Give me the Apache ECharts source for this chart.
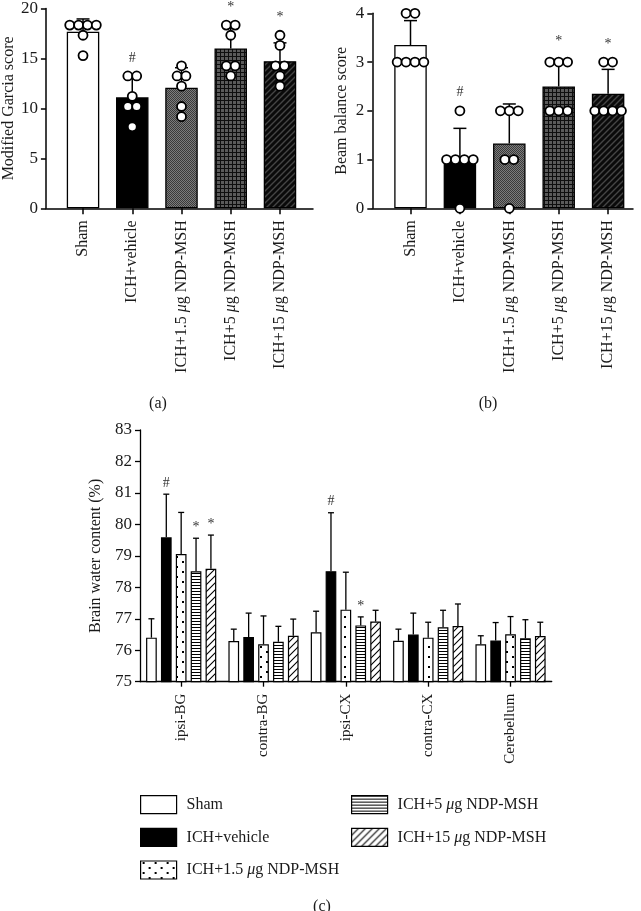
<!DOCTYPE html>
<html><head><meta charset="utf-8">
<script src="https://cdn.jsdelivr.net/npm/echarts@6/dist/echarts.min.js"></script>
<style>html,body{margin:0;padding:0;background:#fff}#chart{width:641px;height:911px}</style>
</head><body><div id="chart"></div>
<script>
// ---------- data ----------
const groups = ['Sham', 'ICH+vehicle', 'ICH+1.5 μg NDP-MSH', 'ICH+5 μg NDP-MSH', 'ICH+15 μg NDP-MSH'];

// (a) Modified Garcia score
const garciaMean = [17.35, 10.9, 11.85, 15.7, 14.45];
const garciaSD = [1.25, 2.1, 1.96, 2.25, 1.8];
const garciaPoints = [
  [18, 18, 18, 18, 17, 15],
  [13, 13, 11, 10, 10, 8],
  [14, 13, 13, 12, 10, 9],
  [18, 18, 17, 14, 14, 13],
  [17, 16, 14, 14, 13, 12]
];
const garciaSig = ['', '#', '', '*', '*'];

// (b) Beam balance score
const beamMean = [3.35, 1.02, 1.33, 2.5, 2.35];
const beamSD = [0.5, 0.62, 0.81, 0.55, 0.5];
const beamPoints = [
  [4, 4, 3, 3, 3, 3],
  [2, 1, 1, 1, 1, 0],
  [2, 2, 2, 1, 1, 0],
  [3, 3, 3, 2, 2, 2],
  [3, 3, 2, 2, 2, 2]
];
const beamSig = ['', '#', '', '*', '*'];

// (c) Brain water content (%)
const regions = ['ipsi-BG', 'contra-BG', 'ipsi-CX', 'contra-CX', 'Cerebellum'];
const waterSham = [76.40, 76.29, 76.57, 76.30, 76.19];
const waterShamSD = [0.60, 0.38, 0.67, 0.37, 0.27];
const waterVehicle = [79.59, 76.42, 78.51, 76.50, 76.31];
const waterVehicleSD = [1.37, 0.76, 1.86, 0.68, 0.57];
const water1_5 = [79.06, 76.19, 77.29, 76.40, 76.51];
const water1_5SD = [1.32, 0.90, 1.19, 0.49, 0.56];
const water5 = [78.51, 76.27, 76.79, 76.73, 76.38];
const water5SD = [1.05, 0.49, 0.27, 0.54, 0.59];
const water15 = [78.59, 76.46, 76.91, 76.77, 76.45];
const water15SD = [1.07, 0.53, 0.36, 0.70, 0.44];
const waterSigSham = ['', '', '', '', ''];
const waterSigVehicle = ['#', '', '#', '', ''];
const waterSig1_5 = ['', '', '', '', ''];
const waterSig5 = ['*', '', '*', '', ''];
const waterSig15 = ['*', '', '', '', ''];

// ---------- helpers ----------
const FONT = 'Liberation Serif';
const INK = '#1a1a1a';

function pat(w, h, draw) {
  const c = document.createElement('canvas');
  c.width = w; c.height = h;
  const x = c.getContext('2d');
  draw(x, w, h);
  return { image: c, repeat: 'repeat' };
}
const patFineGray = pat(2, 2, x => {
  x.fillStyle = '#7c7c7c'; x.fillRect(0, 0, 2, 2);
  x.fillStyle = '#3a3a3a'; x.fillRect(0, 0, 1, 1); x.fillRect(1, 1, 1, 1);
});
const patGrid = pat(4, 4, x => {
  x.fillStyle = '#0e0e0e'; x.fillRect(0, 0, 4, 4);
  x.fillStyle = '#5a5a5a'; x.fillRect(1, 1, 3, 3);
});
const patDiagDark = pat(6, 6, x => {
  x.fillStyle = '#0a0a0a'; x.fillRect(0, 0, 6, 6);
  x.strokeStyle = '#454545'; x.lineWidth = 1.4;
  x.beginPath();
  x.moveTo(0, 6); x.lineTo(6, 0);
  x.moveTo(-1, 1); x.lineTo(1, -1);
  x.moveTo(5, 7); x.lineTo(7, 5);
  x.stroke();
});
const patDots = pat(12, 10, x => {
  x.fillStyle = '#fff'; x.fillRect(0, 0, 12, 10);
  x.fillStyle = '#000'; x.fillRect(2, 1, 2, 2); x.fillRect(8, 6, 2, 2);
});
const patHLines = pat(4, 3, x => {
  x.fillStyle = '#fff'; x.fillRect(0, 0, 4, 3);
  x.fillStyle = '#000'; x.fillRect(0, 0, 4, 1);
});
const patDiagLight = pat(7, 7, x => {
  x.fillStyle = '#fff'; x.fillRect(0, 0, 7, 7);
  x.strokeStyle = '#000'; x.lineWidth = 1.1;
  x.beginPath();
  x.moveTo(0, 7); x.lineTo(7, 0);
  x.moveTo(-1, 1); x.lineTo(1, -1);
  x.moveTo(6, 8); x.lineTo(8, 6);
  x.stroke();
});

const fillsAB = ['#ffffff', '#000000', patFineGray, patGrid, patDiagDark];
const fillsC = ['#ffffff', '#000000', patDots, patHLines, patDiagLight];

function jitter(points, step) {
  const out = [];
  points.forEach((vals, g) => {
    const counts = {}, seen = {};
    vals.forEach(v => counts[v] = (counts[v] || 0) + 1);
    vals.forEach(v => {
      const k = seen[v] = (seen[v] === undefined ? 0 : seen[v] + 1);
      out.push([g + (k - (counts[v] - 1) / 2) * step, v]);
    });
  });
  return out;
}

const muFmt = v => v.replace('μ', '{i|μ}');
const richMu = size => ({ i: { fontStyle: 'italic', fontFamily: FONT, fontSize: size, color: INK } });

function errRender(sig, pts, cap, gap, lw, font, barStep) {
  return function (params, api) {
    const i = params.dataIndex;
    const cat = api.value(0), sIdx = api.value(1), m = api.value(2), s = api.value(3);
    const dx = barStep ? (sIdx - 2) * barStep : 0;
    const p0 = api.coord([cat, m]), p1 = api.coord([cat, m + s]);
    const x = p0[0] + dx;
    const children = [
      { type: 'line', shape: { x1: x, y1: p0[1], x2: x, y2: p1[1] }, style: { stroke: '#000', lineWidth: lw } },
      { type: 'line', shape: { x1: x - cap, y1: p1[1], x2: x + cap, y2: p1[1] }, style: { stroke: '#000', lineWidth: lw } }
    ];
    const mark = sig[i];
    if (mark) {
      const top = pts ? Math.max(m + s, Math.max.apply(null, pts[cat])) : m + s;
      const pt = api.coord([cat, top]);
      children.push({ type: 'text', x: x, y: pt[1] - gap,
        style: { text: mark, align: 'center', verticalAlign: 'middle', font: font, fill: '#333' } });
    }
    return { type: 'group', children };
  };
}

// ---------- axes ----------
const lineStyleAB = { color: '#000', width: 1.5 };
const lineStyleC = { color: '#000', width: 1.3 };
const tickLabel = { fontFamily: FONT, fontSize: 17, color: INK };

function outerX(grid) {
  return { gridIndex: grid, type: 'value', min: 0, max: 1,
    axisLine: { show: true, onZero: false, lineStyle: lineStyleAB },
    axisTick: { show: false }, axisLabel: { show: false }, splitLine: { show: false } };
}
function innerCatX(grid) {
  return { gridIndex: grid, type: 'category', data: groups,
    axisLine: { show: false },
    axisTick: { show: true, alignWithLabel: true, length: 6, lineStyle: lineStyleAB },
    axisLabel: { rotate: 90, margin: 12, interval: 0, fontFamily: FONT, fontSize: 16, color: INK,
      formatter: muFmt, rich: richMu(16) } };
}
function hiddenValX(grid) {
  return { gridIndex: grid, type: 'value', min: -0.5, max: 4.5, show: false };
}
function visY(grid, min, max, interval, name, gap) {
  return { gridIndex: grid, type: 'value', min, max, interval,
    axisLine: { show: true, onZero: false, lineStyle: lineStyleAB },
    axisTick: { show: true, length: 5, lineStyle: lineStyleAB },
    axisLabel: Object.assign({ margin: 8 }, tickLabel),
    splitLine: { show: false },
    name, nameLocation: 'middle', nameGap: gap,
    nameTextStyle: { fontFamily: FONT, fontSize: 16, color: INK } };
}
function hidY(grid, min, max) {
  return { gridIndex: grid, type: 'value', min, max, show: false };
}

// ---------- series ----------
const series = [];
function addPanel(xCat, xVal, y, means, sds, points, sig) {
  series.push({ type: 'bar', name: 'panel' + xCat, xAxisIndex: xCat, yAxisIndex: y, barWidth: 32.5, silent: true, z: 2,
    itemStyle: { borderColor: '#000', borderWidth: 1.3 },
    data: means.map((v, i) => ({ value: v, itemStyle: { color: fillsAB[i] } })) });
  series.push({ type: 'custom', xAxisIndex: xCat, yAxisIndex: y, z: 4, silent: true, clip: false,
    data: means.map((m, i) => [i, 0, m, sds[i]]),
    renderItem: errRender(sig, points, 6.5, 18, 1.5, '14px ' + FONT, 0) });
  series.push({ type: 'scatter', xAxisIndex: xVal, yAxisIndex: y, z: 5, silent: true, clip: false,
    symbol: 'circle', symbolSize: 9,
    itemStyle: { color: '#fff', borderColor: '#000', borderWidth: 1.8, opacity: 1 },
    data: jitter(points, 0.18) });
}
addPanel(1, 2, 1, garciaMean, garciaSD, garciaPoints, garciaSig);
addPanel(4, 5, 3, beamMean, beamSD, beamPoints, beamSig);

const BW = 10.7, BGAP = 0.39;
const waterMeans = [waterSham, waterVehicle, water1_5, water5, water15];
const waterSDs = [waterShamSD, waterVehicleSD, water1_5SD, water5SD, water15SD];
const waterSigs = [waterSigSham, waterSigVehicle, waterSig1_5, waterSig5, waterSig15];
waterMeans.forEach((arr, s) => {
  series.push({ type: 'bar', name: groups[s], xAxisIndex: 6, yAxisIndex: 4, barWidth: BW, barGap: (BGAP * 100) + '%',
    silent: true, z: 2,
    itemStyle: { color: fillsC[s], borderColor: '#000', borderWidth: 1.2 },
    data: arr });
  series.push({ type: 'custom', xAxisIndex: 6, yAxisIndex: 4, z: 4, silent: true, clip: false,
    data: arr.map((m, i) => [i, s, m, waterSDs[s][i]]),
    renderItem: errRender(waterSigs[s], null, 3, 11, 1.3, '14px ' + FONT, BW * (1 + BGAP)) });
});

const legendBase = {
  orient: 'vertical', itemWidth: 36, itemHeight: 18, itemGap: 13.5, padding: 0, icon: 'rect',
  selectedMode: false, formatter: muFmt,
  itemStyle: { borderColor: '#000', borderWidth: 1.2 },
  textStyle: { fontFamily: FONT, fontSize: 16, color: INK, padding: [0, 0, 0, 5], rich: richMu(16) }
};

const option = {
  animation: false,
  backgroundColor: '#fff',
  title: [
    { text: '(a)', left: 153, top: 391, textAlign: 'center', textStyle: { fontFamily: FONT, fontSize: 16, fontWeight: 'normal', color: INK } },
    { text: '(b)', left: 483, top: 391, textAlign: 'center', textStyle: { fontFamily: FONT, fontSize: 16, fontWeight: 'normal', color: INK } },
    { text: '(c)', left: 317, top: 894, textAlign: 'center', textStyle: { fontFamily: FONT, fontSize: 16, fontWeight: 'normal', color: INK } }
  ],
  grid: [
    { left: 44, top: 4.7, width: 269, height: 203.6 },
    { left: 58.4, top: 4.7, width: 246.2, height: 203.6 },
    { left: 372.3, top: 13.3, width: 260.7, height: 195 },
    { left: 385.8, top: 13.3, width: 247, height: 195 },
    { left: 140, top: 430, width: 411.7, height: 251.7 }
  ],
  xAxis: [
    outerX(0), innerCatX(1), hiddenValX(1),
    outerX(2), innerCatX(3), hiddenValX(3),
    { gridIndex: 4, type: 'category', data: regions,
      axisLine: { show: true, onZero: false, lineStyle: lineStyleC },
      axisTick: { show: true, alignWithLabel: true, length: 5, lineStyle: lineStyleC },
      axisLabel: { rotate: 90, margin: 12, interval: 0, fontFamily: FONT, fontSize: 15, color: INK } }
  ],
  yAxis: [
    visY(0, 0, 20, 5, 'Modified Garcia score', 26),
    hidY(1, 0, 20),
    visY(2, 0, 4, 1, 'Beam balance score', 22.6),
    hidY(3, 0, 4),
    Object.assign(visY(4, 75, 83, 1, 'Brain water content (%)', 35), {
      axisLine: { show: true, onZero: false, lineStyle: lineStyleC },
      axisTick: { show: true, length: 5, lineStyle: lineStyleC } })
  ],
  legend: [
    Object.assign({}, legendBase, { left: 140, top: 795, data: groups.slice(0, 3) }),
    Object.assign({}, legendBase, { left: 351, top: 795, data: groups.slice(3) })
  ],
  series
};

const chart = echarts.init(document.getElementById('chart'), null, { renderer: 'canvas' });
chart.setOption(option);
</script>
</body></html>
